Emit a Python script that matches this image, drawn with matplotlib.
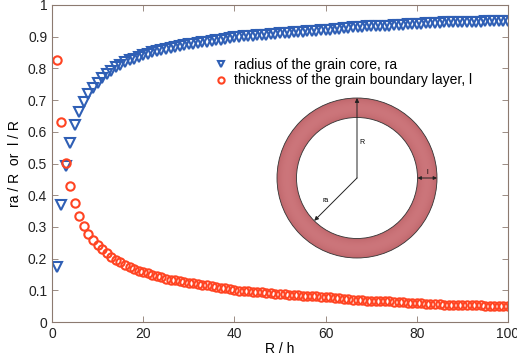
import numpy as np
import matplotlib
matplotlib.use('Agg')
import matplotlib.pyplot as plt
from matplotlib.patches import Circle, Wedge

plt.rcParams['font.family'] = ['Liberation Sans', 'DejaVu Sans']

# R/h values
R_h = np.arange(1, 101)

# radius of the grain core ra/R
ra_R = [0.175, 0.368, 0.492, 0.566, 0.621, 0.663, 0.695, 0.718, 0.738, 0.755,
        0.769, 0.782, 0.793, 0.803, 0.811, 0.819, 0.825, 0.831, 0.837, 0.842,
        0.847, 0.851, 0.855, 0.859, 0.862, 0.865, 0.868, 0.871, 0.873, 0.876,
        0.878, 0.880, 0.882, 0.884, 0.886, 0.889, 0.891, 0.893, 0.895, 0.899,
        0.900, 0.901, 0.902, 0.903, 0.904, 0.905, 0.906, 0.908, 0.910, 0.911,
        0.912, 0.913, 0.914, 0.915, 0.916, 0.917, 0.918, 0.919, 0.920, 0.921,
        0.922, 0.923, 0.925, 0.927, 0.929, 0.930, 0.931, 0.932, 0.933, 0.933,
        0.934, 0.934, 0.935, 0.935, 0.936, 0.937, 0.938, 0.939, 0.939, 0.940,
        0.941, 0.942, 0.943, 0.944, 0.944, 0.945, 0.945, 0.945, 0.946, 0.946,
        0.946, 0.947, 0.947, 0.947, 0.948, 0.948, 0.948, 0.949, 0.949, 0.950]

# thickness of the grain boundary layer l/R
l_R = [0.825, 0.630, 0.503, 0.430, 0.376, 0.334, 0.302, 0.279, 0.260, 0.243,
       0.229, 0.217, 0.205, 0.196, 0.188, 0.180, 0.174, 0.168, 0.162, 0.157,
       0.153, 0.148, 0.144, 0.141, 0.137, 0.134, 0.131, 0.129, 0.126, 0.124,
       0.122, 0.120, 0.118, 0.116, 0.114, 0.110, 0.108, 0.106, 0.104, 0.100,
       0.099, 0.098, 0.097, 0.096, 0.095, 0.094, 0.093, 0.091, 0.089, 0.088,
       0.087, 0.086, 0.085, 0.084, 0.083, 0.082, 0.081, 0.081, 0.080, 0.079,
       0.078, 0.077, 0.075, 0.073, 0.071, 0.070, 0.069, 0.068, 0.067, 0.067,
       0.066, 0.066, 0.065, 0.065, 0.064, 0.063, 0.062, 0.061, 0.061, 0.060,
       0.059, 0.058, 0.057, 0.056, 0.056, 0.055, 0.055, 0.055, 0.054, 0.054,
       0.054, 0.053, 0.053, 0.053, 0.052, 0.052, 0.052, 0.051, 0.051, 0.051]

x_ticks = [0, 20, 40, 60, 80, 100]
y_ticks = [0, 0.1, 0.2, 0.3, 0.4, 0.5, 0.6, 0.7, 0.8, 0.9, 1]
y_ticklabels = ['0', '0.1', '0.2', '0.3', '0.4', '0.5', '0.6', '0.7', '0.8', '0.9', '1']

W, H = 517, 360
fig = plt.figure(figsize=(W / 100, H / 100), dpi=100)
ax = fig.add_axes([52 / W, 1 - 322 / H, 456 / W, 317 / H])

blue = '#2f5fb5'
red = '#ff4422'
ax.plot(R_h, ra_R, 'v', ms=6.5, mfc='none', mec=blue, mew=1.5,
        label='radius of the grain core, ra')
ax.plot(R_h, l_R, 'o', ms=6, mfc='none', mec=red, mew=1.5,
        label='thickness of the grain boundary layer, l')

ax.set_xlim(0, 100)
ax.set_ylim(0, 1)
ax.set_xticks(x_ticks)
ax.set_xticklabels([str(t) for t in x_ticks])
ax.set_yticks(y_ticks)
ax.set_yticklabels(y_ticklabels)
ax.tick_params(direction='in', top=True, right=True, length=4, width=0.6,
               labelsize=10, colors='#222222')
for sp in ax.spines.values():
    sp.set_color('#8c7a70')
    sp.set_linewidth(0.8)
ax.tick_params(axis='both', color='#8c7a70')
ax.set_xlabel('R / h', fontsize=10, labelpad=1)
ax.set_ylabel('ra / R  or  l / R', fontsize=10, labelpad=4)

leg = ax.legend(loc='upper left', bbox_to_anchor=(156 / 456, 0.85), frameon=False,
                fontsize=10, handletextpad=0.4, labelspacing=0.1,
                handlelength=1.1, borderaxespad=0, markerscale=0.75)

# inset sketch of the grain
cx, cy, half = 357, 178, 90
ins = fig.add_axes([(cx - half) / W, 1 - (cy + half) / H, 2 * half / W, 2 * half / H])
ins.set_xlim(-half, half)
ins.set_ylim(-half, half)
ins.set_aspect('equal')
ins.axis('off')
r_out, r_in = 80, 60.5

# radial shading of the ring
g = np.linspace(-half, half, 300)
gx, gy = np.meshgrid(g, g)
rr = np.hypot(gx, gy)
t = np.clip((rr - r_in) / (r_out - r_in), 0, 1)
shade = 1 - 0.35 * (2 * np.abs(t - 0.5)) ** 2
c0 = np.array([0.66, 0.30, 0.32])
c1 = np.array([0.80, 0.46, 0.48])
img = c0[None, None, :] + (c1 - c0)[None, None, :] * shade[:, :, None]
ring = Wedge((0, 0), r_out, 0, 360, width=r_out - r_in, facecolor='none',
             edgecolor='none')
ins.add_patch(ring)
im = ins.imshow(img, extent=(-half, half, -half, half), origin='lower',
                interpolation='bilinear', zorder=1)
im.set_clip_path(ring)
ins.add_patch(Circle((0, 0), r_out, fill=False, ec='#333333', lw=0.6, zorder=2))
ins.add_patch(Circle((0, 0), r_in, fill=False, ec='#333333', lw=0.6, zorder=2))

ins.annotate('', xy=(0, r_out), xytext=(0, 0),
             arrowprops=dict(arrowstyle='-|>', lw=0.7, color='#222222',
                             mutation_scale=6, shrinkA=0, shrinkB=0), zorder=3)
ang = np.deg2rad(225)
ins.annotate('', xy=(r_in * np.cos(ang), r_in * np.sin(ang)), xytext=(0, 0),
             arrowprops=dict(arrowstyle='-|>', lw=0.7, color='#222222',
                             mutation_scale=6, shrinkA=0, shrinkB=0), zorder=3)
ins.annotate('', xy=(r_out, 0), xytext=(r_in, 0),
             arrowprops=dict(arrowstyle='<|-|>', lw=0.7, color='#222222',
                             mutation_scale=5, shrinkA=0, shrinkB=0), zorder=3)
ins.text(5, 35, 'R', fontsize=5, ha='center', va='center')
ins.text(-31, -22, 'ra', fontsize=5, ha='center', va='center')
ins.text(70, 6, 'l', fontsize=5, ha='center', va='center')

fig.savefig('out.png', dpi=100)
